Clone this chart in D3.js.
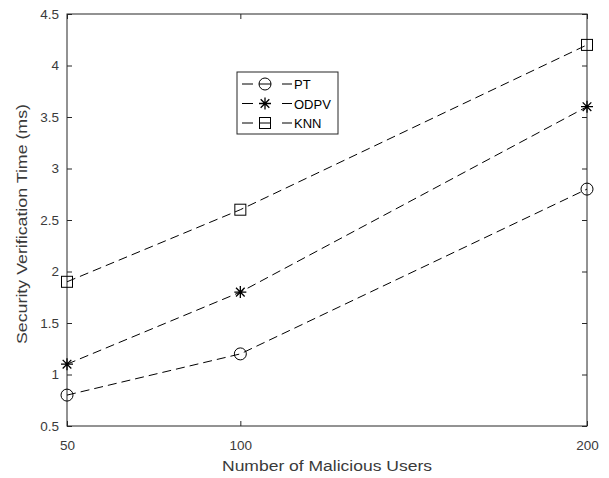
<!DOCTYPE html>
<html>
<head>
<meta charset="utf-8">
<script src="https://cdn.jsdelivr.net/npm/d3@7"></script>
<style>
  body { margin: 0; background: #fff; }
  text { font-family: "Liberation Sans", Arial, sans-serif; }
</style>
</head>
<body>
<div id="chart"></div>
<script>
const users = [50, 100, 200];
const ptTime = [0.8, 1.2, 2.8];
const odpvTime = [1.1, 1.8, 3.6];
const knnTime = [1.9, 2.6, 4.2];
const seriesNames = ["PT", "ODPV", "KNN"];
const seriesMarkers = ["circle", "star", "square"];
const yTicks = [0.5, 1, 1.5, 2, 2.5, 3, 3.5, 4, 4.5];

const W = 609, H = 478;
const margin = {top: 14, right: 22, bottom: 52, left: 67};
const width = W - margin.left - margin.right;
const height = H - margin.top - margin.bottom;
const ink = "#262626";
const textInk = "#3a3a3a";

const svg = d3.select("#chart").append("svg")
  .attr("width", W).attr("height", H);
const g = svg.append("g")
  .attr("transform", "translate(" + margin.left + "," + margin.top + ")");

const x = d3.scaleLinear().domain([50, 200]).range([0, width]);
const y = d3.scaleLinear().domain([0.5, 4.5]).range([height, 0]);

// axes, MATLAB-like inward ticks
const styleAxis = sel => {
  sel.select(".domain").remove();
  sel.selectAll(".tick line").attr("stroke", ink);
  sel.selectAll(".tick text").attr("fill", textInk).attr("font-size", 13.5);
};
g.append("g").attr("transform", "translate(0," + height + ")")
  .call(d3.axisBottom(x).tickValues(users).tickSizeInner(-5).tickPadding(14))
  .call(styleAxis);
g.append("g")
  .call(d3.axisTop(x).tickValues(users).tickSizeInner(-5).tickFormat(""))
  .call(styleAxis);
g.append("g")
  .call(d3.axisLeft(y).tickValues(yTicks).tickSizeInner(-5).tickPadding(8).tickFormat(d3.format("")))
  .call(styleAxis);
g.append("g").attr("transform", "translate(" + width + ",0)")
  .call(d3.axisRight(y).tickValues(yTicks).tickSizeInner(-5).tickFormat(""))
  .call(styleAxis);

g.append("rect")
  .attr("width", width).attr("height", height)
  .attr("fill", "none").attr("stroke", ink).attr("stroke-width", 1);

function drawMarker(sel, type, cx, cy) {
  if (type === "circle") {
    sel.append("circle").attr("cx", cx).attr("cy", cy).attr("r", 6)
      .attr("fill", "none").attr("stroke", "#000").attr("stroke-width", 1);
  } else if (type === "square") {
    sel.append("rect").attr("x", cx - 5.5).attr("y", cy - 5.5)
      .attr("width", 11).attr("height", 11)
      .attr("fill", "none").attr("stroke", "#000").attr("stroke-width", 1);
  } else {
    const r = 6;
    const p = d3.path();
    p.moveTo(cx - r, cy); p.lineTo(cx + r, cy);
    p.moveTo(cx, cy - r); p.lineTo(cx, cy + r);
    const k = r * 0.72;
    p.moveTo(cx - k, cy - k); p.lineTo(cx + k, cy + k);
    p.moveTo(cx - k, cy + k); p.lineTo(cx + k, cy - k);
    sel.append("path").attr("d", p.toString())
      .attr("stroke", "#000").attr("stroke-width", 1.3);
  }
}

const series = [ptTime, odpvTime, knnTime];
const line = d3.line().x((d, i) => x(users[i])).y(d => y(d));

series.forEach((vals, s) => {
  g.append("path").datum(vals)
    .attr("fill", "none").attr("stroke", "#000")
    .attr("stroke-width", 1).attr("stroke-dasharray", "9,5")
    .attr("d", line);
  const mg = g.append("g");
  vals.forEach((v, i) => drawMarker(mg, seriesMarkers[s], x(users[i]), y(v)));
});

// legend
const lg = svg.append("g").attr("transform", "translate(237,72)");
lg.append("rect").attr("width", 101).attr("height", 62)
  .attr("fill", "#fff").attr("stroke", ink).attr("stroke-width", 1);
seriesNames.forEach((name, i) => {
  const cy = 12 + i * 19.5;
  [[5, 16], [22, 34], [45, 55]].forEach(seg => {
    lg.append("line").attr("x1", seg[0]).attr("x2", seg[1])
      .attr("y1", cy).attr("y2", cy).attr("stroke", "#000");
  });
  drawMarker(lg, seriesMarkers[i], 28, cy);
  lg.append("text").attr("x", 57).attr("y", cy + 5)
    .attr("font-size", 13).attr("fill", "#000").text(name);
});

// axis labels
svg.append("text")
  .attr("x", 327).attr("y", 471)
  .attr("text-anchor", "middle").attr("font-size", 14).attr("fill", textInk)
  .attr("textLength", 210).attr("lengthAdjust", "spacingAndGlyphs")
  .text("Number of Malicious Users");
svg.append("text")
  .attr("transform", "translate(27,224) rotate(-90)")
  .attr("text-anchor", "middle").attr("font-size", 14).attr("fill", textInk)
  .attr("textLength", 240).attr("lengthAdjust", "spacingAndGlyphs")
  .text("Security Verification Time (ms)");
</script>
</body>
</html>
